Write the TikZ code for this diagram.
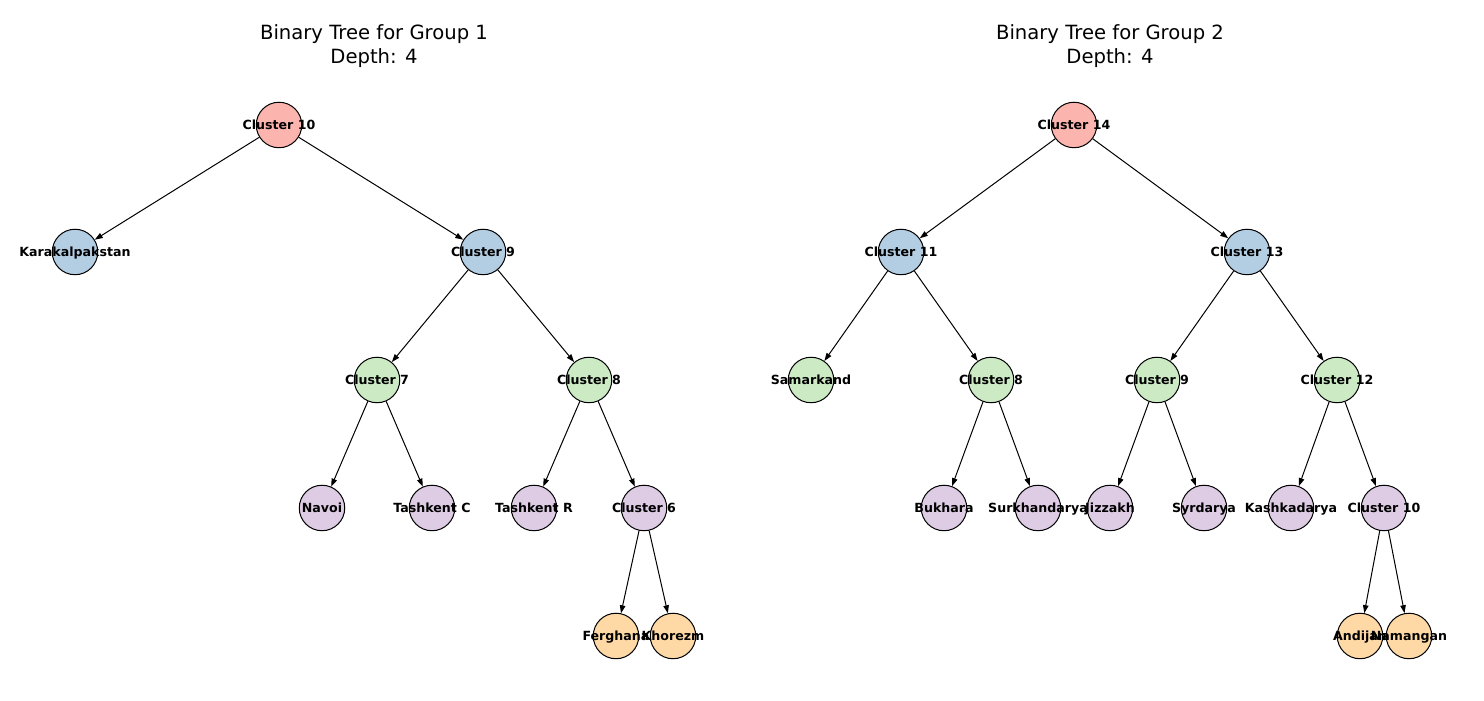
\documentclass[tikz,border=0pt]{standalone}
\usepackage{fontspec}
\setmainfont{DejaVu Sans}
\usetikzlibrary{arrows.meta}
\definecolor{cred}{HTML}{FBB4AE}
\definecolor{cblue}{HTML}{B3CDE3}
\definecolor{cgreen}{HTML}{CCEBC5}
\definecolor{cpurple}{HTML}{DECBE4}
\definecolor{corange}{HTML}{FED9A6}
\begin{document}
\begin{tikzpicture}[x=1pt,y=1pt,
  tn/.style={circle,draw=black,line width=1pt,minimum size=45.5pt,inner sep=0pt,fill=#1},
  lab/.style={font=\fontsize{12.6}{13}\bfseries\selectfont,inner sep=0pt,text height=9.6pt,text depth=0pt},
  edge/.style={-{Triangle[length=8pt,width=5.5pt]},line width=1pt},
  ttl/.style={font=\fontsize{19.6}{23.5}\selectfont,align=center}]
\useasboundingbox (0,0) rectangle (1484,701);
% titles
\node[ttl] (t1) at (374,655) {Binary Tree for Group 1\\Depth: 4};
\node[ttl] (t2) at (1110,655) {Binary Tree for Group 2\\Depth: 4};
% Group 1
\node[tn=cred] (a10) at (279,576) {};
\node[tn=cblue] (aKa) at (75,449) {};
\node[tn=cblue] (a9) at (483,449) {};
\node[tn=cgreen] (a7) at (377,321) {};
\node[tn=cgreen] (a8) at (589,321) {};
\node[tn=cpurple] (aNa) at (322,193) {};
\node[tn=cpurple] (aTC) at (432,193) {};
\node[tn=cpurple] (aTR) at (534,193) {};
\node[tn=cpurple] (a6) at (644,193) {};
\node[tn=corange] (aFe) at (616,65) {};
\node[tn=corange] (aKh) at (673,65) {};
\draw[edge] (a10) -- (aKa);
\draw[edge] (a10) -- (a9);
\draw[edge] (a9) -- (a7);
\draw[edge] (a9) -- (a8);
\draw[edge] (a7) -- (aNa);
\draw[edge] (a7) -- (aTC);
\draw[edge] (a8) -- (aTR);
\draw[edge] (a8) -- (a6);
\draw[edge] (a6) -- (aFe);
\draw[edge] (a6) -- (aKh);
\node[lab] (la10) at (a10) {Cluster 10};
\node[lab] (laKa) at (aKa) {Karakalpakstan};
\node[lab] (la9) at (a9) {Cluster 9};
\node[lab] (la7) at (a7) {Cluster 7};
\node[lab] (la8) at (a8) {Cluster 8};
\node[lab] (laNa) at (aNa) {Navoi};
\node[lab] (laTC) at (aTC) {Tashkent C};
\node[lab] (laTR) at (aTR) {Tashkent R};
\node[lab] (la6) at (a6) {Cluster 6};
\node[lab] (laFe) at (aFe) {Ferghana};
\node[lab] (laKh) at (aKh) {Khorezm};
% Group 2
\node[tn=cred] (b14) at (1074,576) {};
\node[tn=cblue] (b11) at (901,449) {};
\node[tn=cblue] (b13) at (1247,449) {};
\node[tn=cgreen] (bSa) at (811,321) {};
\node[tn=cgreen] (b8) at (991,321) {};
\node[tn=cgreen] (b9) at (1157,321) {};
\node[tn=cgreen] (b12) at (1337,321) {};
\node[tn=cpurple] (bBu) at (944,193) {};
\node[tn=cpurple] (bSu) at (1038,193) {};
\node[tn=cpurple] (bJi) at (1110,193) {};
\node[tn=cpurple] (bSy) at (1204,193) {};
\node[tn=cpurple] (bKa) at (1291,193) {};
\node[tn=cpurple] (b10) at (1384,193) {};
\node[tn=corange] (bAn) at (1360,65) {};
\node[tn=corange] (bNa) at (1409,65) {};
\draw[edge] (b14) -- (b11);
\draw[edge] (b14) -- (b13);
\draw[edge] (b11) -- (bSa);
\draw[edge] (b11) -- (b8);
\draw[edge] (b13) -- (b9);
\draw[edge] (b13) -- (b12);
\draw[edge] (b8) -- (bBu);
\draw[edge] (b8) -- (bSu);
\draw[edge] (b9) -- (bJi);
\draw[edge] (b9) -- (bSy);
\draw[edge] (b12) -- (bKa);
\draw[edge] (b12) -- (b10);
\draw[edge] (b10) -- (bAn);
\draw[edge] (b10) -- (bNa);
\node[lab] (lb14) at (b14) {Cluster 14};
\node[lab] (lb11) at (b11) {Cluster 11};
\node[lab] (lb13) at (b13) {Cluster 13};
\node[lab] (lbSa) at (bSa) {Samarkand};
\node[lab] (lb8) at (b8) {Cluster 8};
\node[lab] (lb9) at (b9) {Cluster 9};
\node[lab] (lb12) at (b12) {Cluster 12};
\node[lab] (lbBu) at (bBu) {Bukhara};
\node[lab] (lbSu) at (bSu) {Surkhandarya};
\node[lab] (lbJi) at (bJi) {Jizzakh};
\node[lab] (lbSy) at (bSy) {Syrdarya};
\node[lab] (lbKa) at (bKa) {Kashkadarya};
\node[lab] (lb10) at (b10) {Cluster 10};
\node[lab] (lbAn) at (bAn) {Andijan};
\node[lab] (lbNa) at (bNa) {Namangan};
\end{tikzpicture}
\end{document}
